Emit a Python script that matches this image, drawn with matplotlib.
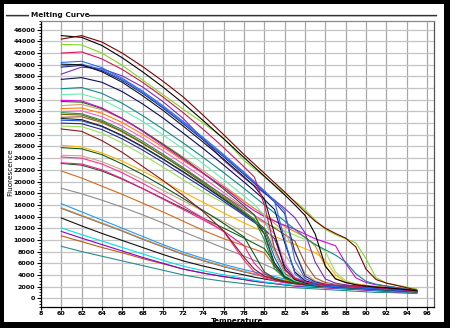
import matplotlib
matplotlib.use("Agg")
import matplotlib.pyplot as plt
from matplotlib.patches import Rectangle
from matplotlib.lines import Line2D
from matplotlib.ticker import MultipleLocator, FixedLocator

# Temperatures (deg C) at which each curve is sampled
temps = [60, 62, 64, 66, 68, 70, 72, 74, 76, 78, 79, 80, 81, 82, 83, 84, 85, 86, 87, 88, 89, 90, 91, 92, 95]

# Fluorescence of each well, in thousands
well_maroon = [44.4, 45.0, 43.9, 42.0, 39.7, 37.2, 34.5, 31.3, 28.0, 24.6, 23.0, 21.4, 19.8, 18.2, 16.5, 14.8, 13.2, 12.0, 11.1, 10.3, 8.8, 5.0, 3.2, 2.6, 1.4]
well_black_top = [45.0, 44.7, 43.3, 41.2, 38.8, 36.2, 33.4, 30.4, 27.3, 24.1, 22.5, 20.9, 19.3, 17.7, 16.0, 14.2, 11.0, 5.5, 3.3, 2.7, 2.3, 2.1, 1.9, 1.8, 1.3]
well_lime = [43.5, 43.4, 42.0, 39.9, 37.4, 34.9, 32.4, 30.0, 27.4, 23.6, 22.2, 20.8, 19.4, 18.0, 16.6, 15.2, 13.4, 11.8, 10.9, 10.2, 9.5, 6.8, 3.5, 2.6, 1.6]
well_crimson = [42.0, 42.2, 41.0, 39.2, 37.0, 34.5, 31.8, 28.9, 25.8, 22.5, 20.8, 16.0, 8.5, 4.8, 3.4, 2.8, 2.5, 2.3, 2.2, 2.1, 2.0, 1.9, 1.8, 1.7, 1.2]
well_blue_a = [40.4, 40.6, 39.5, 37.7, 35.5, 33.0, 30.3, 27.5, 24.6, 21.6, 20.0, 18.4, 16.6, 10.0, 4.2, 2.8, 2.3, 2.1, 2.0, 1.9, 1.8, 1.7, 1.6, 1.5, 1.1]
well_black_a = [40.1, 40.0, 38.8, 37.0, 34.7, 32.2, 29.5, 26.7, 23.8, 20.8, 19.2, 17.0, 11.0, 5.0, 3.2, 2.6, 2.3, 2.1, 2.0, 1.9, 1.8, 1.7, 1.6, 1.5, 1.1]
well_royal = [39.8, 40.1, 39.2, 37.5, 35.3, 32.8, 30.1, 27.3, 24.4, 21.4, 19.9, 18.3, 16.8, 15.0, 6.5, 3.4, 2.6, 2.3, 2.1, 2.0, 1.9, 1.8, 1.7, 1.6, 1.2]
well_navy_a = [39.6, 39.9, 39.0, 37.3, 35.1, 32.6, 29.9, 27.1, 24.2, 21.2, 19.7, 18.1, 16.5, 14.5, 8.0, 3.8, 2.8, 2.4, 2.2, 2.1, 2.0, 1.9, 1.8, 1.7, 1.2]
well_purple = [38.4, 39.6, 39.3, 38.1, 36.2, 33.7, 30.8, 27.2, 23.6, 20.6, 19.3, 18.0, 16.8, 15.4, 13.8, 11.2, 6.2, 3.3, 2.6, 2.3, 2.1, 2.0, 1.9, 1.8, 1.3]
well_navy_b = [37.5, 37.8, 37.0, 35.4, 33.3, 30.9, 28.3, 25.6, 22.8, 19.9, 18.4, 16.9, 15.2, 9.5, 4.5, 3.0, 2.5, 2.2, 2.0, 1.9, 1.8, 1.7, 1.6, 1.5, 1.1]
well_teal_a = [35.9, 36.1, 35.1, 33.4, 31.3, 29.0, 26.6, 24.1, 21.5, 18.8, 17.4, 16.0, 14.6, 13.2, 11.8, 10.4, 9.2, 8.3, 7.4, 6.2, 4.2, 2.9, 2.4, 2.1, 1.3]
well_mint = [34.9, 35.0, 34.0, 32.3, 30.3, 28.0, 25.6, 23.0, 20.3, 17.5, 16.1, 14.2, 8.0, 4.0, 3.0, 2.6, 2.3, 2.1, 2.0, 1.9, 1.8, 1.7, 1.6, 1.5, 1.1]
well_magenta = [33.9, 33.8, 32.6, 30.8, 28.6, 26.2, 23.8, 21.4, 19.0, 16.2, 15.0, 14.0, 13.2, 12.5, 11.8, 11.0, 10.2, 9.6, 9.0, 6.0, 3.5, 2.7, 2.3, 2.1, 1.3]
well_green_a = [33.7, 33.6, 32.5, 30.8, 28.7, 26.4, 24.0, 21.4, 18.7, 15.8, 14.3, 11.0, 5.5, 3.5, 2.8, 2.5, 2.3, 2.2, 2.1, 2.0, 1.9, 1.8, 1.7, 1.6, 1.2]
well_tan_a = [33.0, 33.2, 32.3, 30.7, 28.7, 26.5, 24.2, 21.8, 19.3, 16.7, 15.4, 14.1, 12.8, 11.4, 8.0, 4.2, 3.0, 2.5, 2.3, 2.2, 2.1, 2.0, 1.9, 1.8, 1.3]
well_orange_a = [32.5, 32.6, 31.7, 30.1, 28.1, 25.9, 23.6, 21.3, 19.0, 16.6, 15.4, 14.3, 13.3, 12.3, 11.4, 10.5, 9.0, 5.5, 3.4, 2.7, 2.4, 2.2, 2.0, 1.9, 1.3]
well_pink_a = [32.0, 32.1, 31.1, 29.5, 27.5, 25.3, 23.0, 20.6, 18.1, 15.5, 14.2, 12.9, 11.0, 6.0, 3.6, 2.8, 2.5, 2.3, 2.2, 2.1, 2.0, 1.9, 1.8, 1.7, 1.2]
well_seagreen = [31.8, 31.6, 30.5, 28.9, 26.9, 24.7, 22.4, 20.0, 17.5, 14.9, 13.5, 10.0, 5.0, 3.4, 2.8, 2.5, 2.3, 2.2, 2.1, 2.0, 1.9, 1.8, 1.7, 1.6, 1.2]
well_olive = [31.5, 31.4, 30.3, 28.6, 26.6, 24.4, 22.1, 19.7, 17.2, 14.7, 13.4, 12.0, 8.0, 4.2, 3.0, 2.6, 2.4, 2.2, 2.1, 2.0, 1.9, 1.8, 1.7, 1.6, 1.2]
well_brown = [31.0, 31.1, 30.1, 28.5, 26.5, 24.4, 22.2, 19.9, 17.6, 15.3, 14.2, 13.1, 12.0, 10.9, 9.8, 6.0, 3.5, 2.7, 2.4, 2.2, 2.1, 2.0, 1.9, 1.8, 1.3]
well_black_b = [30.8, 30.6, 29.5, 27.9, 26.0, 23.9, 21.7, 19.4, 17.0, 14.6, 13.3, 11.0, 6.0, 3.6, 2.9, 2.5, 2.3, 2.2, 2.1, 2.0, 1.9, 1.8, 1.7, 1.6, 1.2]
well_blue_b = [30.5, 30.4, 29.4, 27.8, 25.9, 23.8, 21.6, 19.3, 16.9, 14.4, 13.1, 11.7, 7.0, 3.8, 2.9, 2.5, 2.3, 2.2, 2.1, 2.0, 1.9, 1.8, 1.7, 1.6, 1.2]
well_navy_c = [30.0, 29.9, 28.9, 27.3, 25.4, 23.3, 21.1, 18.9, 16.6, 14.2, 13.0, 11.8, 10.2, 5.5, 3.4, 2.7, 2.4, 2.2, 2.1, 2.0, 1.9, 1.8, 1.7, 1.6, 1.2]
well_yellowgreen = [29.5, 29.4, 28.3, 26.6, 24.6, 22.5, 20.3, 18.2, 16.3, 14.5, 13.7, 12.9, 12.2, 11.5, 10.8, 10.1, 9.3, 8.0, 4.5, 3.0, 2.5, 2.2, 2.0, 1.9, 1.4]
well_darkred = [29.0, 28.6, 27.0, 25.0, 22.6, 20.2, 17.6, 14.8, 11.5, 7.0, 5.0, 3.8, 3.2, 2.8, 2.5, 2.3, 2.2, 2.1, 2.0, 1.9, 1.8, 1.7, 1.6, 1.5, 1.1]
well_gold = [26.2, 25.9, 24.9, 23.5, 21.8, 20.0, 18.2, 16.4, 14.6, 12.9, 12.1, 11.3, 10.6, 9.9, 9.2, 8.5, 7.8, 6.5, 4.0, 2.8, 2.4, 2.2, 2.0, 1.9, 1.3]
well_green_b = [25.8, 25.6, 24.6, 23.0, 21.2, 19.2, 17.1, 15.0, 12.8, 10.5, 7.5, 4.5, 3.4, 2.9, 2.6, 2.4, 2.2, 2.1, 2.0, 1.9, 1.8, 1.7, 1.6, 1.5, 1.1]
well_tan_b = [24.5, 24.4, 23.4, 22.0, 20.3, 18.5, 16.7, 14.9, 13.1, 11.3, 10.4, 9.5, 8.6, 7.5, 5.0, 3.3, 2.7, 2.4, 2.2, 2.1, 2.0, 1.9, 1.8, 1.7, 1.2]
well_pink_b = [24.2, 24.0, 23.0, 21.5, 19.7, 17.8, 15.8, 13.7, 11.4, 6.5, 4.5, 3.5, 3.0, 2.7, 2.5, 2.3, 2.2, 2.1, 2.0, 1.9, 1.8, 1.7, 1.6, 1.5, 1.1]
well_deeppink = [23.2, 23.0, 22.0, 20.5, 18.8, 17.0, 15.2, 13.4, 11.5, 9.0, 6.0, 4.2, 3.3, 2.9, 2.6, 2.4, 2.3, 2.2, 2.1, 2.0, 1.9, 1.8, 1.7, 1.6, 1.2]
well_green_c = [23.1, 22.8, 21.8, 20.4, 18.8, 17.1, 15.4, 13.7, 12.0, 10.3, 9.4, 8.5, 6.0, 3.8, 3.0, 2.6, 2.4, 2.2, 2.1, 2.0, 1.9, 1.8, 1.7, 1.6, 1.2]
well_rust = [21.8, 20.6, 19.2, 17.8, 16.3, 14.8, 13.2, 11.6, 10.2, 9.0, 8.4, 7.8, 5.5, 3.6, 2.9, 2.6, 2.4, 2.2, 2.1, 2.0, 1.9, 1.8, 1.7, 1.6, 1.2]
well_grey = [18.85, 17.9, 16.8, 15.6, 14.3, 12.9, 11.4, 10.0, 8.6, 7.2, 6.5, 5.8, 5.0, 4.2, 3.5, 2.9, 2.5, 2.3, 2.1, 2.0, 1.9, 1.8, 1.7, 1.6, 1.2]
well_skyblue = [16.2, 14.8, 13.4, 12.0, 10.6, 9.2, 7.9, 6.8, 5.8, 4.9, 4.5, 4.1, 3.7, 3.3, 3.0, 2.7, 2.5, 2.3, 2.1, 2.0, 1.9, 1.8, 1.7, 1.6, 1.1]
well_orange_b = [15.5, 14.2, 12.9, 11.6, 10.2, 8.9, 7.6, 6.5, 5.5, 4.6, 4.2, 3.8, 3.4, 3.1, 2.8, 2.6, 2.4, 2.2, 2.0, 1.9, 1.8, 1.7, 1.6, 1.5, 1.0]
well_blue_c = [15.4, 14.1, 12.8, 11.5, 10.1, 8.8, 7.5, 6.4, 5.4, 4.5, 4.1, 3.7, 3.3, 3.0, 2.7, 2.5, 2.3, 2.1, 2.0, 1.9, 1.8, 1.7, 1.6, 1.5, 1.0]
well_black_c = [13.75, 12.4, 11.1, 9.9, 8.7, 7.5, 6.4, 5.5, 4.7, 4.0, 3.6, 3.3, 3.0, 2.7, 2.5, 2.3, 2.1, 2.0, 1.9, 1.8, 1.7, 1.6, 1.5, 1.4, 1.0]
well_cyan = [12.05, 10.9, 9.8, 8.7, 7.6, 6.5, 5.5, 4.7, 4.0, 3.4, 3.1, 2.8, 2.6, 2.4, 2.2, 2.1, 2.0, 1.9, 1.8, 1.7, 1.6, 1.5, 1.4, 1.3, 0.9]
well_violet = [11.45, 10.3, 9.2, 8.1, 7.0, 6.0, 5.0, 4.3, 3.7, 3.2, 2.9, 2.7, 2.5, 2.3, 2.1, 2.0, 1.9, 1.8, 1.7, 1.6, 1.5, 1.4, 1.3, 1.2, 0.9]
well_sienna = [10.7, 9.7, 8.7, 7.8, 6.8, 5.9, 5.0, 4.3, 3.7, 3.2, 2.9, 2.7, 2.5, 2.3, 2.1, 2.0, 1.9, 1.8, 1.7, 1.6, 1.5, 1.4, 1.3, 1.2, 0.9]
well_teal_b = [8.9, 8.0, 7.2, 6.4, 5.6, 4.8, 4.0, 3.4, 2.9, 2.5, 2.3, 2.1, 2.0, 1.9, 1.8, 1.7, 1.6, 1.5, 1.4, 1.3, 1.2, 1.1, 1.0, 1.0, 0.8]

wells = [
    (well_teal_b, "#2a8c8c"), (well_sienna, "#c05a10"), (well_violet, "#8a00c8"),
    (well_cyan, "#00e0f0"), (well_black_c, "#111111"), (well_blue_c, "#3a6ad8"),
    (well_orange_b, "#e08a1e"), (well_skyblue, "#1e9bff"), (well_grey, "#8c8c8c"),
    (well_rust, "#d2691e"), (well_green_c, "#1b5e20"), (well_deeppink, "#ff1493"),
    (well_pink_b, "#ff2d95"), (well_tan_b, "#c8a882"), (well_green_b, "#0b5d1e"),
    (well_gold, "#ffb300"), (well_darkred, "#8b1a1a"), (well_yellowgreen, "#9be05a"),
    (well_navy_c, "#2a2a90"), (well_blue_b, "#2050e0"), (well_black_b, "#222222"),
    (well_brown, "#a0522d"), (well_olive, "#6b6b00"), (well_seagreen, "#2e8b57"),
    (well_pink_a, "#ff5fc8"), (well_orange_a, "#ff7f00"), (well_tan_a, "#d2a064"),
    (well_green_a, "#0a6e0a"), (well_magenta, "#e000e0"), (well_mint, "#66f0b0"),
    (well_teal_a, "#0e8a8a"), (well_navy_b, "#0b0b5c"), (well_purple, "#7a2cc0"),
    (well_navy_a, "#1c2a8c"), (well_royal, "#4169e1"), (well_black_a, "#141414"),
    (well_blue_a, "#1f6fff"), (well_crimson, "#d6135a"), (well_lime, "#7fdc1e"),
    (well_black_top, "#000000"), (well_maroon, "#800000"),
]

x_ticks = list(range(58, 97, 2))
x_tick_labels = ["8"] + [str(t) for t in range(60, 97, 2)]
y_ticks = list(range(0, 46001, 2000))
y_tick_labels = [str(v) for v in y_ticks]

W, H = 455, 331
fig = plt.figure(figsize=(W / 100, H / 100), dpi=100)
fig.patch.set_facecolor("white")


def fr(x0, y0, x1, y1):
    return (x0 / W, 1 - y1 / H), (x1 - x0) / W, (y1 - y0) / H


# outer black frame
xy, w, h = fr(0, 0, 450, 328)
fig.add_artist(Rectangle(xy, w, h, transform=fig.transFigure, facecolor="black", edgecolor="none", zorder=-2))
xy, w, h = fr(4, 4, 444, 322)
fig.add_artist(Rectangle(xy, w, h, transform=fig.transFigure, facecolor="white", edgecolor="none", zorder=-1))

# group box line with title
for (xa, xb) in [(6, 28), (89, 436)]:
    fig.add_artist(Line2D([xa / W, xb / W], [1 - 14.5 / H, 1 - 14.5 / H], transform=fig.transFigure,
                          color="#303030", lw=0.9))
    fig.add_artist(Line2D([xa / W, xb / W], [1 - 16.0 / H, 1 - 16.0 / H], transform=fig.transFigure,
                          color="#b0b0b0", lw=0.7))
fig.text(31 / W, 1 - 14.8 / H, "Melting Curve", fontsize=5.3, fontweight="bold", va="center", ha="left",
         color="#111111")

left, right, top, bottom = 41, 434, 21, 307
ax = fig.add_axes([left / W, 1 - bottom / H, (right - left) / W, (bottom - top) / H])
ax.set_facecolor("white")

for vals, col in wells:
    ax.plot(temps, [v * 1000 for v in vals], color=col, lw=0.8, solid_joinstyle="round")

ax.set_xlim(58, 96.7)
ax.set_ylim(-1500, 47500)

ax.xaxis.set_major_locator(FixedLocator(x_ticks))
ax.set_xticklabels(x_tick_labels)
ax.yaxis.set_major_locator(FixedLocator(y_ticks))
ax.set_yticklabels(y_tick_labels)
ax.yaxis.set_minor_locator(MultipleLocator(500))

ax.tick_params(axis="both", which="major", labelsize=4.6, length=3, width=0.8, pad=1, color="black")
ax.tick_params(axis="x", which="major", pad=0.3, length=2.5)
ax.tick_params(axis="y", which="minor", length=1.6, width=0.6, color="black")
for lbl in ax.get_xticklabels() + ax.get_yticklabels():
    lbl.set_fontweight("bold")

ax.xaxis.grid(True, color="#a8a8a8", lw=0.9)
ax.yaxis.grid(True, color="#c4c4c4", lw=0.9)
ax.set_axisbelow(True)

ax.spines["left"].set_color("black")
ax.spines["bottom"].set_color("black")
ax.spines["top"].set_color("#8a8a8a")
ax.spines["right"].set_color("#555555")
for s in ax.spines.values():
    s.set_linewidth(0.9)

ax.set_ylabel("Fluorescence", fontsize=5.2)
ax.yaxis.set_label_coords(-0.071, 0.47)
ax.set_xlabel("Temperature", fontsize=5.2, fontweight="bold")
ax.xaxis.set_label_coords(0.5, -0.039)

fig.savefig("out.png", dpi=100, facecolor="white")
